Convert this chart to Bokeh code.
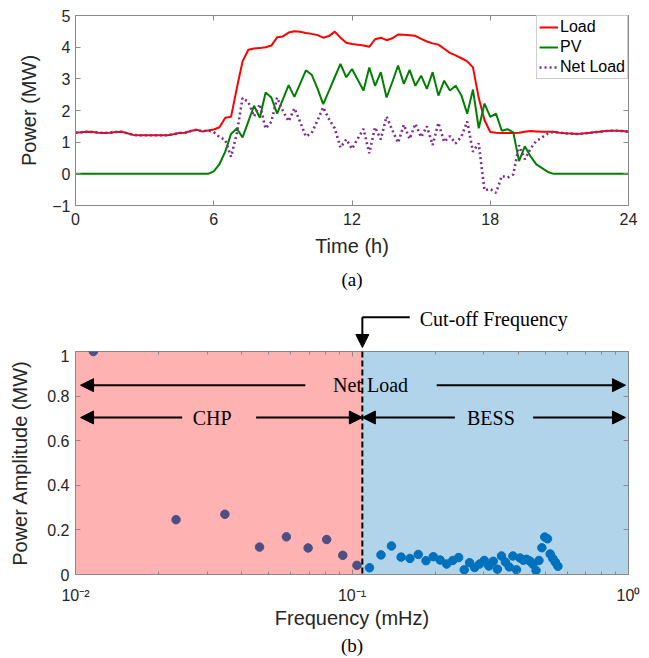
from bokeh.plotting import figure
from bokeh.layouts import column
from bokeh.models import (Legend, LinearAxis, FixedTicker, Arrow, NormalHead,
                          Label, Title, Range1d, Span)
from bokeh.embed import file_html
from bokeh.resources import INLINE

# ---------------- data: (a) daily profiles, 15-min resolution ----------------
time_h = [0.0, 0.25, 0.5, 0.75, 1.0, 1.25, 1.5, 1.75, 2.0, 2.25, 2.5, 2.75,
          3.0, 3.25, 3.5, 3.75, 4.0, 4.25, 4.5, 4.75, 5.0, 5.25, 5.5, 5.75,
          6.0, 6.25, 6.5, 6.75, 7.0, 7.25, 7.5, 7.75, 8.0, 8.25, 8.5, 8.75,
          9.0, 9.25, 9.5, 9.75, 10.0, 10.25, 10.5, 10.75, 11.0, 11.25, 11.5, 11.75,
          12.0, 12.25, 12.5, 12.75, 13.0, 13.25, 13.5, 13.75, 14.0, 14.25, 14.5, 14.75,
          15.0, 15.25, 15.5, 15.75, 16.0, 16.25, 16.5, 16.75, 17.0, 17.25, 17.5, 17.75,
          18.0, 18.25, 18.5, 18.75, 19.0, 19.25, 19.5, 19.75, 20.0, 20.25, 20.5, 20.75,
          21.0, 21.25, 21.5, 21.75, 22.0, 22.25, 22.5, 22.75, 23.0, 23.25, 23.5, 23.75, 24.0]

load_mw = [1.30, 1.31, 1.33, 1.32, 1.30, 1.29, 1.30, 1.32, 1.33, 1.28,
           1.23, 1.22, 1.22, 1.22, 1.22, 1.22, 1.22, 1.25, 1.29, 1.30,
           1.35, 1.39, 1.34, 1.37, 1.40, 1.47, 1.77, 1.80, 2.70, 3.55,
           3.92, 3.96, 3.97, 4.00, 4.05, 4.31, 4.34, 4.46, 4.50, 4.49,
           4.45, 4.42, 4.38, 4.30, 4.35, 4.49, 4.30, 4.14, 4.10, 4.08,
           4.05, 4.01, 4.25, 4.30, 4.22, 4.28, 4.40, 4.39, 4.38, 4.36,
           4.26, 4.18, 4.12, 4.08, 3.95, 3.82, 3.74, 3.65, 3.55, 3.36,
           2.40, 1.70, 1.32, 1.30, 1.29, 1.29, 1.29, 1.30, 1.33, 1.35,
           1.34, 1.33, 1.33, 1.33, 1.30, 1.28, 1.27, 1.26, 1.27, 1.29,
           1.31, 1.33, 1.35, 1.36, 1.36, 1.35, 1.33]

pv_mw = [0, 0, 0, 0, 0, 0, 0, 0, 0, 0,
         0, 0, 0, 0, 0, 0, 0, 0, 0, 0,
         0, 0, 0, 0, 0.08, 0.31, 0.70, 1.26, 1.43, 1.15,
         1.65, 2.15, 1.77, 2.57, 2.41, 1.90, 2.35, 2.80, 2.43, 2.85,
         3.27, 3.13, 2.70, 2.20, 2.62, 3.05, 3.47, 3.05, 3.31, 2.97,
         2.63, 3.36, 2.78, 3.21, 2.41, 2.90, 3.42, 2.84, 3.28, 2.78,
         3.10, 2.68, 3.21, 2.47, 2.94, 2.63, 2.78, 2.47, 1.90, 2.66,
         1.44, 2.22, 1.80, 1.90, 1.36, 1.41, 1.31, 0.40, 0.87, 0.55,
         0.30, 0.18, 0.06, 0, 0, 0, 0, 0, 0, 0,
         0, 0, 0, 0, 0, 0, 0]

net_load_mw = [1.30, 1.31, 1.33, 1.32, 1.30, 1.29, 1.30, 1.32, 1.33, 1.28,
               1.23, 1.22, 1.22, 1.22, 1.22, 1.22, 1.22, 1.25, 1.29, 1.30,
               1.35, 1.39, 1.34, 1.37, 1.32, 1.16, 1.07, 0.54, 1.27, 2.40,
               2.27, 1.81, 2.20, 1.43, 1.64, 2.41, 1.99, 1.66, 2.07, 1.64,
               1.18, 1.29, 1.68, 2.10, 1.73, 1.44, 0.83, 1.09, 0.79, 1.11,
               1.42, 0.65, 1.47, 1.09, 1.81, 1.38, 0.98, 1.55, 1.10, 1.58,
               1.16, 1.50, 0.91, 1.61, 1.01, 1.19, 0.96, 1.18, 1.65, 0.70,
               0.96, -0.52, -0.48, -0.60, -0.07, -0.12, -0.02, 0.90, 0.46, 0.80,
               1.04, 1.15, 1.27, 1.33, 1.30, 1.28, 1.27, 1.26, 1.27, 1.29,
               1.31, 1.33, 1.35, 1.36, 1.36, 1.35, 1.33]

time_ticks = [0, 6, 12, 18, 24]
power_ticks = [-1, 0, 1, 2, 3, 4, 5]

# ---------------- data: (b) spectrum of net load ----------------
freq_mhz = [0.0116, 0.0231, 0.0347, 0.0463, 0.0579, 0.0694, 0.0810, 0.0926,
            0.1042, 0.1157, 0.1273, 0.1389, 0.1505, 0.1620, 0.1736, 0.1852,
            0.1968, 0.2083, 0.2199, 0.2315, 0.2431, 0.2546, 0.2662, 0.2778,
            0.2894, 0.3009, 0.3125, 0.3241, 0.3356, 0.3472, 0.3588, 0.3704,
            0.3819, 0.3935, 0.4051, 0.4167, 0.4282, 0.4398, 0.4514, 0.4630,
            0.4745, 0.4861, 0.4977, 0.5093, 0.5208, 0.5324, 0.5440, 0.5556]
amp_mw = [1.000, 0.246, 0.270, 0.123, 0.169, 0.119, 0.157, 0.086,
          0.041, 0.030, 0.088, 0.128, 0.078, 0.072, 0.090, 0.062,
          0.080, 0.065, 0.047, 0.063, 0.076, 0.021, 0.053, 0.031,
          0.047, 0.063, 0.038, 0.059, 0.024, 0.083, 0.056, 0.034,
          0.083, 0.021, 0.074, 0.064, 0.068, 0.060, 0.046, 0.018,
          0.063, 0.120, 0.168, 0.160, 0.092, 0.072, 0.055, 0.037]
cutoff_mhz = 0.109
freq_limits = [0.01, 1.0]
amp_ticks = [0, 0.2, 0.4, 0.6, 0.8, 1]
amp_tick_labels = ["0", "0.2", "0.4", "0.6", "0.8", "1"]
freq_ticks = [0.01, 0.1, 1]
freq_tick_labels = ["10\u207b\u00b2", "10\u207b\u00b9", "10\u2070"]
freq_minor_ticks = [0.02, 0.03, 0.04, 0.05, 0.06, 0.07, 0.08, 0.09,
                    0.2, 0.3, 0.4, 0.5, 0.6, 0.7, 0.8, 0.9]

SANS = "Liberation Sans"
SERIF = "Liberation Serif"
AXC = "#8a8a8a"
TXT = "#262626"
W = 649
LEFT, RIGHT = 75, 21


def style_axis(ax, label_size="16px"):
    ax.axis_line_color = AXC
    ax.major_tick_line_color = AXC
    ax.major_tick_in = 5
    ax.major_tick_out = 0
    ax.minor_tick_line_color = None
    ax.major_label_text_font = SANS
    ax.major_label_text_font_size = label_size
    ax.major_label_text_color = TXT
    ax.axis_label_text_font = SANS
    ax.axis_label_text_font_size = "20px"
    ax.axis_label_text_font_style = "normal"
    ax.axis_label_text_color = TXT


def tick_only_axis(ticks, minor=None):
    ticker = FixedTicker(ticks=ticks, minor_ticks=minor or [])
    ax = LinearAxis(ticker=ticker, major_label_overrides={t: "" for t in ticks})
    ax.axis_line_color = None
    ax.major_tick_line_color = AXC
    ax.major_tick_in = 5
    ax.major_tick_out = 0
    ax.major_label_text_font_size = "1px"
    ax.major_label_standoff = 0
    if minor:
        ax.minor_tick_line_color = AXC
        ax.minor_tick_in = 3
        ax.minor_tick_out = 0
    else:
        ax.minor_tick_line_color = None
    return ax


# ---------------- figure (a) ----------------
p1 = figure(width=W, height=298, x_range=Range1d(0, 24), y_range=Range1d(-1, 5),
            output_backend="svg", toolbar_location=None,
            min_border_left=LEFT, min_border_right=RIGHT, min_border_top=15, min_border_bottom=93)
p1.grid.visible = False
p1.outline_line_color = AXC
p1.background_fill_color = "white"

r_load = p1.line(time_h, load_mw, line_color="#FF0000", line_width=2)
r_pv = p1.line(time_h, pv_mw, line_color="#008000", line_width=2)
r_net = p1.line(time_h, net_load_mw, line_color="#7E2F8E", line_width=2.6, line_dash="2 3")

p1.xaxis.ticker = FixedTicker(ticks=time_ticks)
p1.yaxis.ticker = FixedTicker(ticks=power_ticks)
p1.xaxis.axis_label = "Time (h)"
p1.yaxis.axis_label = "Power (MW)"
for ax in p1.xaxis + p1.yaxis:
    style_axis(ax)
p1.xaxis.major_label_standoff = 7
p1.xaxis.axis_label_standoff = 7
p1.yaxis.major_label_standoff = 5
p1.yaxis.axis_label_standoff = 9

p1.add_layout(tick_only_axis(time_ticks), "above")
p1.add_layout(tick_only_axis(power_ticks), "right")

legend = Legend(items=[("Load", [r_load]), ("PV", [r_pv]), ("Net Load", [r_net])],
                location="top_right")
legend.label_text_font = SANS
legend.label_text_font_size = "16px"
legend.label_text_color = "black"
legend.glyph_width = 19
legend.glyph_height = 18
legend.label_height = 18
legend.label_standoff = 2
legend.spacing = 2
legend.padding = 2
legend.margin = 0
legend.border_line_color = "#9a9a9a"
legend.background_fill_color = "white"
legend.background_fill_alpha = 1
p1.add_layout(legend)

cap_a = Title(text="(a)", align="center", text_font=SERIF, text_font_size="19px",
              text_font_style="normal", text_color="black", standoff=14)
p1.add_layout(cap_a, "below")

# ---------------- strip above (b): cut-off frequency pointer ----------------
strip = figure(width=W, height=51, x_axis_type="log", x_axis_location=None,
               y_axis_location=None, x_range=Range1d(freq_limits[0], freq_limits[1]),
               y_range=Range1d(0, 51), output_backend="svg", toolbar_location=None,
               min_border_left=LEFT, min_border_right=RIGHT, min_border_top=0,
               min_border_bottom=0)
strip.grid.visible = False
strip.outline_line_color = None
strip.background_fill_color = "white"


def head():
    return NormalHead(size=13, fill_color="black", line_color="black", line_width=1)


strip.add_layout(Arrow(x_start=0.1618, y_start=32.3, x_end=cutoff_mhz, y_end=32.3,
                       end=None, line_color="black", line_width=2))
strip.add_layout(Arrow(x_start=cutoff_mhz, y_start=32.3, x_end=cutoff_mhz, y_end=2.0,
                       end=head(), line_color="black", line_width=2))
strip.add_layout(Label(x=0.1758, y=31.0, text="Cut-off Frequency", text_font=SERIF,
                       text_font_size="20px", text_color="black", text_align="left",
                       text_baseline="middle"))

# ---------------- figure (b) ----------------
p2 = figure(width=W, height=307, x_axis_type="log", x_axis_location=None,
            x_range=Range1d(freq_limits[0], freq_limits[1]), y_range=Range1d(0, 1),
            output_backend="svg", toolbar_location=None,
            min_border_left=LEFT, min_border_right=RIGHT, min_border_top=2, min_border_bottom=80)
p2.grid.visible = False
p2.outline_line_color = AXC
p2.background_fill_color = "white"

p2.scatter(freq_mhz, amp_mw, size=8.5, fill_color="#0072BD", line_color="#0072BD")
p2.quad(left=[freq_limits[0]], right=[cutoff_mhz], bottom=[0], top=[1],
        fill_color="#FF0000", fill_alpha=0.3, line_color=None)
p2.quad(left=[cutoff_mhz], right=[freq_limits[1]], bottom=[0], top=[1],
        fill_color="#0072BD", fill_alpha=0.3, line_color=None)
p2.add_layout(Span(location=cutoff_mhz, dimension="height", line_color="black",
                   line_width=2, line_dash="6 3"))

xaxis2 = LinearAxis(ticker=FixedTicker(ticks=freq_ticks, minor_ticks=freq_minor_ticks),
                    major_label_overrides=dict(zip(freq_ticks, freq_tick_labels)),
                    axis_label="Frequency (mHz)")
style_axis(xaxis2)
xaxis2.minor_tick_line_color = AXC
xaxis2.minor_tick_in = 3
xaxis2.minor_tick_out = 0
xaxis2.major_label_standoff = 12
xaxis2.axis_label_standoff = 0
p2.add_layout(xaxis2, "below")

p2.yaxis.ticker = FixedTicker(ticks=amp_ticks)
p2.yaxis.major_label_overrides = dict(zip(amp_ticks, amp_tick_labels))
p2.yaxis.axis_label = "Power Amplitude (MW)"
for ax in p2.yaxis:
    style_axis(ax)
p2.yaxis.major_label_standoff = 6
p2.yaxis.axis_label_standoff = 13

p2.add_layout(tick_only_axis(freq_ticks, freq_minor_ticks), "above")
p2.add_layout(tick_only_axis(amp_ticks), "right")

ARROWS = [
    # Net Load row
    (0.0678, 0.849, 0.01043, 0.849),
    (0.2025, 0.849, 0.975, 0.849),
    # CHP row
    (0.0243, 0.704, 0.01043, 0.704),
    (0.0450, 0.704, cutoff_mhz, 0.704),
    # BESS row
    (0.2355, 0.704, cutoff_mhz, 0.704),
    (0.452, 0.704, 0.975, 0.704),
]
for xs, ys, xe, ye in ARROWS:
    p2.add_layout(Arrow(x_start=xs, y_start=ys, x_end=xe, y_end=ye, end=head(),
                        line_color="black", line_width=2))

TEXTS = [
    ("Net Load", 0.1167, 0.849),
    ("CHP", 0.0312, 0.704),
    ("BESS", 0.318, 0.704),
]
for txt, tx, ty in TEXTS:
    p2.add_layout(Label(x=tx, y=ty, text=txt, text_font=SERIF, text_font_size="20px",
                        text_color="black", text_align="center", text_baseline="middle"))

cap_b = Title(text="(b)", align="center", text_font=SERIF, text_font_size="19px",
              text_font_style="normal", text_color="black", standoff=2)
p2.add_layout(cap_b, "below")

layout = column(p1, strip, p2, spacing=0)
open("out.html", "w").write(file_html(layout, INLINE))
